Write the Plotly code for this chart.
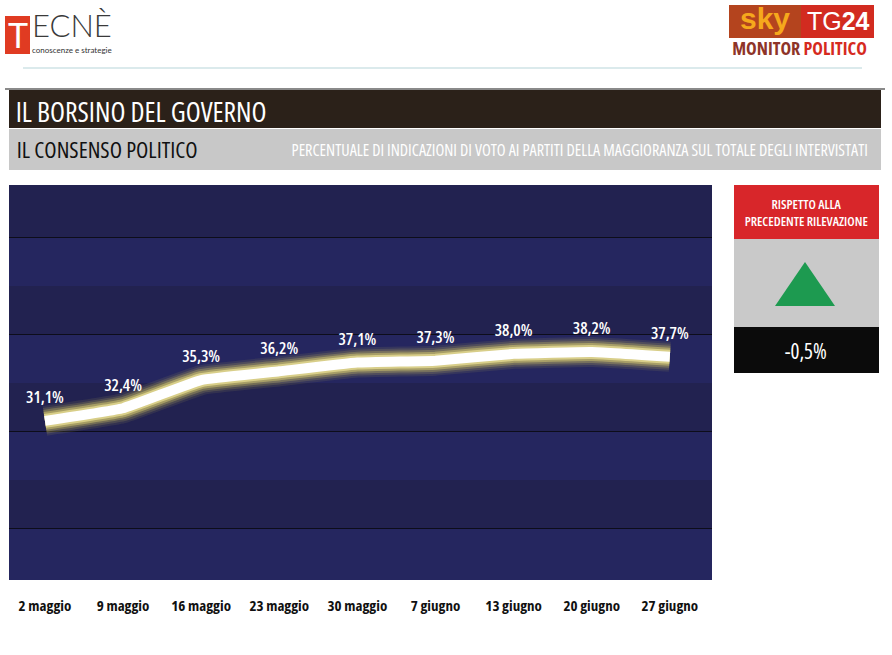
import plotly.graph_objects as go

dates = ["2 maggio", "9 maggio", "16 maggio", "23 maggio", "30 maggio",
         "7 giugno", "13 giugno", "20 giugno", "27 giugno"]
values = [31.1, 32.4, 35.3, 36.2, 37.1, 37.3, 38.0, 38.2, 37.7]
labels = [f"{v:.1f}%".replace(".", ",") for v in values]
delta_label = "-0,5%"

W, H = 892, 655
def px(x):
    return x / W
def py(y):
    return 1 - y / H

COND = "Open Sans"

fig = go.Figure()

# glow layers
for w, c in [(30, "rgba(185,170,80,0.12)"), (26, "rgba(198,182,88,0.18)"),
             (22, "rgba(210,195,100,0.3)"), (18, "rgba(222,208,115,0.48)"),
             (14, "rgba(236,225,150,0.72)"), (10, "#ffffff")]:
    fig.add_trace(go.Scatter(x=dates, y=values, mode="lines",
                             line=dict(color=c, width=w, shape="spline", smoothing=0.3),
                             hoverinfo="skip", showlegend=False))

fig.add_trace(go.Scatter(x=dates, y=values, mode="markers+text", text=labels,
                         textposition="top center",
                         marker=dict(size=20, color="rgba(0,0,0,0)"),
                         textfont=dict(family=COND, size=16.5, color="white", weight=600),
                         showlegend=False, hoverinfo="skip"))

shapes = []
dark = "#222250"
light = "#25265f"
for lo, hi in [(50, 55.4), (40, 45), (30, 35), (20, 25)]:
    shapes.append(dict(type="rect", xref="x domain", yref="y", x0=0, x1=1, y0=lo, y1=hi,
                       fillcolor=dark, line=dict(width=0), layer="below"))

def rect(x0, y0, x1, y1, color, line=None):
    shapes.append(dict(type="rect", xref="paper", yref="paper",
                       x0=px(x0), x1=px(x1), y0=py(y1), y1=py(y0),
                       fillcolor=color, line=line or dict(width=0), layer="above"))

# header lines and bars
shapes.append(dict(type="line", xref="paper", yref="paper", x0=px(23), x1=px(862),
                   y0=py(68), y1=py(68), line=dict(color="#cfe3e6", width=1.5)))
rect(5, 88, 885, 90, "#8a8a8a")
rect(9, 90, 881, 128, "#2b2119")
rect(9, 129, 881, 170, "#c8c8c8")

# Tecne logo
rect(5, 16, 30, 54, "#e03b22")
# sky logo
rect(729, 5, 801, 38, "#b4441e")
rect(801, 5, 874, 38, "#d22b20")

# right panel
rect(734, 185, 879, 239, "#d8262a")
rect(734, 239, 879, 327, "#c9c9c9")
rect(734, 327, 879, 373, "#0b0b0b")
shapes.append(dict(type="path", xref="paper", yref="paper",
                   path=f"M {px(775)} {py(306)} L {px(835)} {py(306)} L {px(805)} {py(262)} Z",
                   fillcolor="#1d9a50", line=dict(width=0), layer="above"))

ann = []
def text(x, y, s, size, color, family=COND, weight=None):
    f = dict(family=family, size=size, color=color)
    if weight:
        f["weight"] = weight
    ann.append(dict(x=px(x), y=py(y), xref="paper", yref="paper", text=s, showarrow=False,
                    xanchor="center", yanchor="middle", font=f))

text(141, 111, "IL BORSINO DEL GOVERNO", 27.5, "white", weight=500)
text(106.5, 150, "IL CONSENSO POLITICO", 22.6, "#111111", weight=500)
text(580, 150, "PERCENTUALE DI INDICAZIONI DI VOTO AI PARTITI DELLA MAGGIORANZA SUL TOTALE DEGLI INTERVISTATI",
     16.2, "white")
text(806, 212, "RISPETTO ALLA<br>PRECEDENTE RILEVAZIONE", 13, "white", weight=600)
text(806, 351, delta_label, 21, "white")

# Tecne logo text
text(17.5, 34, "T", 34, "white", family="Lato")
text(72, 25, "ECNÈ", 31, "#3a3a3a", family="Lato", weight=300)
text(72, 50, "conoscenze e strategie", 8, "#333333", family="Lato")
# sky logo text
text(765, 19, "<b>sky</b>", 30, "#f6a81c", family="Liberation Sans")
text(838, 21, "TG<b>24</b>", 25, "white", family="Liberation Sans")
text(799, 48, "<b><span style='color:#8e3428'>MONITOR</span> <span style='color:#d62a1e'>POLITICO</span></b>",
     18, "#8e3428")

fig.update_layout(
    width=W, height=H, margin=dict(l=0, r=0, t=0, b=0),
    paper_bgcolor="white", plot_bgcolor=light,
    shapes=shapes, annotations=ann, showlegend=False,
    xaxis=dict(domain=[px(9), px(712)], type="category", range=[-0.46, 8.54],
               showgrid=False, zeroline=False, showline=False,
               ticks="outside", ticklen=12, tickcolor="rgba(0,0,0,0)",
               tickfont=dict(family=COND, size=15, color="#111111", weight=700), fixedrange=True),
    yaxis=dict(domain=[py(580), py(185)], range=[14.7, 55.4], dtick=10, tick0=0,
               showgrid=True, gridcolor="#0d0d1a", gridwidth=1,
               showticklabels=False, zeroline=False, showline=False, fixedrange=True),
)

post = """
document.body.style.margin='0';
document.querySelectorAll('text').forEach(function(t){
  var ff = (t.style.fontFamily || '') + ' ' + (t.getAttribute('style') || '');
  if (ff.indexOf('Open Sans') >= 0) { t.style.fontStretch = '75%'; }
});
"""
fig.write_html("out.html", post_script=post, config={"displayModeBar": False, "staticPlot": True})
